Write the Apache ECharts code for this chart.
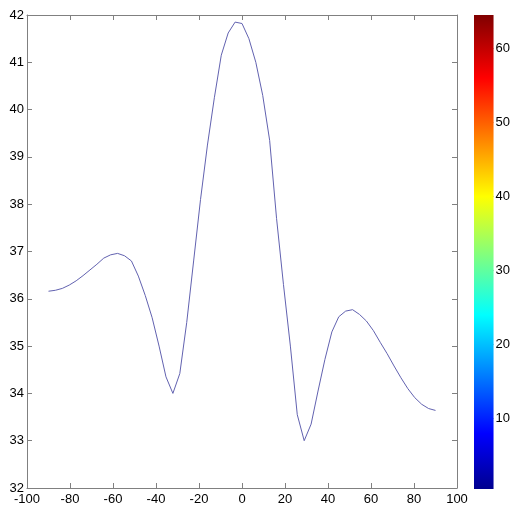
<!DOCTYPE html>
<html>
<head>
<meta charset="utf-8">
<script src="https://cdn.jsdelivr.net/npm/echarts@6/dist/echarts.min.js"></script>
<style>html,body{margin:0;padding:0;background:#fff;}#c{width:513px;height:508px;}</style>
</head>
<body>
<div id="c"></div>
<script>
var xValues = [-90, -86.79, -83.57, -80.36, -77.14, -73.93, -70.71, -67.5, -64.29, -61.07,
  -57.86, -54.64, -51.43, -48.21, -45, -41.79, -38.57, -35.36, -32.14, -28.93,
  -25.71, -22.5, -19.29, -16.07, -12.86, -9.64, -6.43, -3.21, 0, 3.21,
  6.43, 9.64, 12.86, 16.07, 19.29, 22.5, 25.71, 28.93, 32.14, 35.36,
  38.57, 41.79, 45, 48.21, 51.43, 54.64, 57.86, 61.07, 64.29, 67.5,
  70.71, 73.93, 77.14, 80.36, 83.57, 86.79, 90];
var yValues = [36.16, 36.18, 36.22, 36.29, 36.38, 36.49, 36.61, 36.73, 36.86, 36.93,
  36.96, 36.91, 36.80, 36.48, 36.07, 35.60, 35.00, 34.35, 34.00, 34.42,
  35.50, 36.80, 38.10, 39.25, 40.25, 41.15, 41.62, 41.85, 41.82, 41.50,
  41.00, 40.30, 39.35, 37.70, 36.30, 35.00, 33.55, 33.00, 33.35, 34.05,
  34.72, 35.30, 35.62, 35.74, 35.77, 35.67, 35.53, 35.33, 35.08, 34.84,
  34.58, 34.33, 34.10, 33.91, 33.77, 33.68, 33.64];
var xTicks = [-100, -80, -60, -40, -20, 0, 20, 40, 60, 80, 100];
var yTicks = [32, 33, 34, 35, 36, 37, 38, 39, 40, 41, 42];
var colorbarTicks = [10, 20, 30, 40, 50, 60];
var colorbarRange = [0.5, 64.5];

var lineData = xValues.map(function (x, i) { return [x, yValues[i]]; });

var axisColor = '#808080';
var font = 'Liberation Sans, Arial, sans-serif';
var fs = 13;
var jet = {
  type: 'linear', x: 0, y: 1, x2: 0, y2: 0,
  colorStops: [
    {offset: 0, color: '#00008f'},
    {offset: 0.117, color: '#0000ff'},
    {offset: 0.367, color: '#00ffff'},
    {offset: 0.617, color: '#ffff00'},
    {offset: 0.867, color: '#ff0000'},
    {offset: 1, color: '#800000'}
  ]
};

function valAxis(pos, showLabel, min, max, extra) {
  var a = {
    type: 'value', position: pos, min: min, max: max, interval: 1,
    axisLine: {show: true, onZero: false, lineStyle: {color: axisColor, width: 1}},
    axisTick: {show: true, inside: true, length: 5, lineStyle: {color: axisColor}},
    splitLine: {show: false},
    axisLabel: {show: showLabel, color: '#000', fontFamily: font, fontSize: fs, margin: 4}
  };
  for (var k in extra) a[k] = extra[k];
  return a;
}

var chart = echarts.init(document.getElementById('c'), null, {renderer: 'canvas'});
chart.setOption({
  animation: false,
  backgroundColor: '#fff',
  grid: [
    {left: 27, right: 56, top: 15, bottom: 20, containLabel: false},
    {left: 474, width: 23, top: 15, height: 474, containLabel: false}
  ],
  xAxis: [
    valAxis('bottom', true, -100, 100, {interval: 20, gridIndex: 0,
      axisLabel: {show: true, color: '#000', fontFamily: font, fontSize: fs, margin: 5,
        customValues: xTicks}}),
    valAxis('top', false, -100, 100, {interval: 20, gridIndex: 0}),
    {type: 'category', gridIndex: 1, data: ['c'], show: false}
  ],
  yAxis: [
    valAxis('left', true, 32, 42, {gridIndex: 0,
      axisLabel: {show: true, color: '#000', fontFamily: font, fontSize: fs, margin: 3,
        customValues: yTicks}}),
    valAxis('right', false, 32, 42, {gridIndex: 0}),
    {type: 'value', gridIndex: 1, position: 'right', min: colorbarRange[0], max: colorbarRange[1],
      axisLine: {show: false},
      splitLine: {show: false},
      axisTick: {show: true, inside: true, length: 4, customValues: colorbarTicks,
        lineStyle: {color: '#555', opacity: 0.6}},
      axisLabel: {show: true, color: '#000', fontFamily: font, fontSize: fs, margin: 2,
        customValues: colorbarTicks}},
    {type: 'value', gridIndex: 1, position: 'left', min: colorbarRange[0], max: colorbarRange[1],
      axisLine: {show: false},
      splitLine: {show: false},
      axisTick: {show: true, inside: true, length: 4, customValues: colorbarTicks,
        lineStyle: {color: '#555', opacity: 0.6}},
      axisLabel: {show: false}}
  ],
  series: [
    {
      type: 'line', xAxisIndex: 0, yAxisIndex: 0, data: lineData,
      showSymbol: false, symbol: 'none', smooth: false,
      lineStyle: {color: '#6262b0', width: 1}
    },
    {
      type: 'bar', xAxisIndex: 2, yAxisIndex: 2, data: [colorbarRange[1]],
      barWidth: '100%', itemStyle: {color: jet}, silent: true
    }
  ]
});
</script>
</body>
</html>
